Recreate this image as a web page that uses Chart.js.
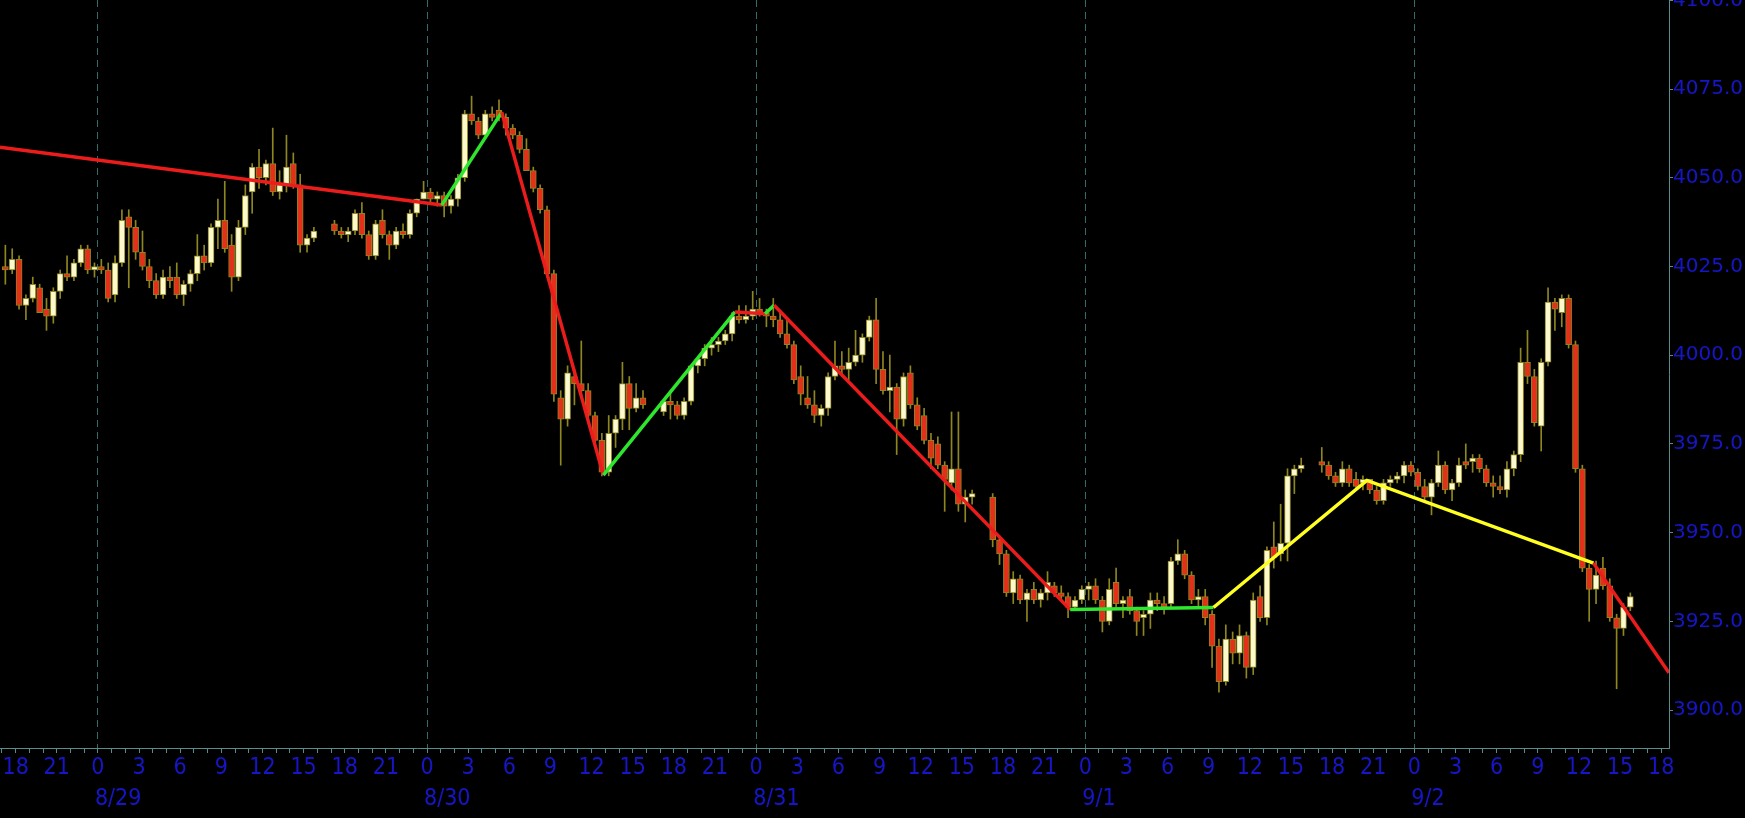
<!DOCTYPE html>
<html>
<head>
<meta charset="utf-8">
<script src="https://cdn.jsdelivr.net/npm/chart.js@4.4.0/dist/chart.umd.min.js"></script>
<style>
  html, body { margin: 0; padding: 0; background: #000; overflow: hidden; }
  #wrap { position: relative; width: 1745px; height: 818px; }
</style>
</head>
<body>
<div id="wrap"><canvas id="chart" width="1745" height="818"></canvas></div>
<script>
// ---------- Data (30-min bars, hours counted from 8/29 0:00) ----------
// first bar 8/28 17:00, last bar 9/2 15:30, daily break 16:00-17:00
const firstBar = -7;
const lastBar = 111.5;

const opens = [
  // 8/28 17:00 - 8/29 15:30
  4025,4024,4027,4014,4016,4019,4013,4011,4018,4023,4022,4026,4030,4024,
  4025,4024,4017,4026,4039,4036,4029,4025,4021,4017,4022,4022,4017,4020,4023,4028,4026,4036,
  4038,4031,4022,4036,4046,4053,4050,4054,4046,4048,4054,4048,4031,4033,
  // 8/29 17:00 - 8/30 15:30
  4037,4035,4034,4035,4040,4034,4028,4038,4034,4031,4035,4034,4040,4044,4046,4044,4045,4042,4044,4050,4068,4066,4062,4068,
  4069,4067,4064,4062,4058,4052,4047,4041,4023,3988,3982,3994,3992,3990,3983,3976,3967,3978,3982,3992,3985,3988,
  // 8/30 17:00 - 8/31 15:30
  3984,3987,3986,3983,3987,3997,3999,4002,4003,4004,4006,4011,4010,4011,4013,4012,4011,4010,4006,4003,3994,3988,3986,3983,
  3985,3994,3997,3996,3998,4000,4005,4010,3996,3990,3991,3982,3995,3986,3983,3976,3975,3969,3964,3968,3958,3960,
  // 8/31 17:00 - 9/1 15:30
  3960,3948,3944,3933,3937,3931,3934,3931,3933,3935,3933,3932,3929,3931,3934,3935,3931,3925,3936,3930,3932,3928,3926,3927,
  3931,3930,3930,3942,3944,3938,3931,3932,3927,3918,3908,3920,3916,3921,3912,3932,3926,3946,3944,3947,3966,3968,
  // 9/1 17:00 - 9/2 15:30
  3970,3969,3966,3964,3968,3965,3964,3965,3962,3959,3964,3965,3966,3969,3967,3963,3960,3964,3969,3962,3964,3970,3970,3971,
  3968,3964,3963,3962,3968,3972,3998,3994,3980,3998,4015,4012,4016,4003,3968,3940,3934,3940,3935,3926,3923,3929
];
const highs = [
  4031,4030,4028,4017,4022,4020,4016,4019,4024,4028,4027,4031,4031,4026,
  4027,4026,4028,4041,4041,4038,4035,4027,4023,4024,4025,4026,4021,4024,4034,4031,4037,4044,
  4049,4034,4038,4048,4054,4058,4055,4064,4052,4062,4057,4051,4034,4036,
  4038,4036,4036,4041,4043,4035,4038,4041,4035,4036,4037,4041,4044,4049,4047,4046,4046,4045,4051,4069,4073,4067,4069,4070,
  4072,4068,4065,4063,4061,4053,4048,4042,4024,3990,3997,3996,4004,3992,3984,3978,3983,3983,3998,3994,3992,3990,
  3987,3990,3987,3988,3997,3999,4003,4005,4005,4007,4012,4014,4014,4018,4016,4013,4016,4012,4010,4004,3997,3994,3990,3986,
  3995,4004,4001,4002,4007,4006,4011,4016,4001,4000,3992,3995,3997,3988,3985,3978,3977,3970,3984,3984,3962,3962,
  3961,3949,3945,3939,3938,3934,3936,3934,3939,3936,3935,3933,3932,3935,3936,3937,3932,3937,3940,3932,3934,3929,3928,3933,
  3933,3932,3943,3948,3945,3939,3934,3934,3928,3920,3924,3922,3924,3922,3933,3935,3946,3953,3958,3968,3969,3971,
  3974,3970,3967,3970,3969,3967,3966,3965,3963,3965,3966,3967,3970,3970,3968,3965,3965,3973,3970,3965,3971,3975,3972,3972,
  3969,3966,3966,3970,3973,4002,4007,3996,3999,4019,4016,4017,4017,4004,3969,3941,3942,3943,3937,3927,3930,3933
];
const lows = [
  4020,4023,4013,4010,4015,4012,4007,4009,4016,4021,4021,4025,4023,4022,
  4023,4015,4015,4025,4019,4027,4024,4019,4016,4016,4019,4016,4014,4018,4021,4024,4025,4030,
  4029,4018,4021,4034,4040,4047,4048,4045,4044,4046,4047,4029,4029,4032,
  4034,4033,4032,4034,4033,4027,4027,4033,4027,4030,4033,4033,4039,4044,4043,4042,4039,4040,4042,4049,4065,4061,4061,4066,
  4066,4062,4061,4057,4052,4046,4040,4022,3987,3969,3980,3986,3988,3982,3975,3966,3966,3974,3979,3979,3984,3985,
  3983,3982,3982,3982,3986,3995,3997,4000,4001,4003,4004,4009,4009,4010,4011,4008,4008,4005,4002,3992,3986,3985,3981,3980,
  3983,3993,3994,3993,3997,3998,4004,3992,3989,3984,3972,3980,3985,3979,3975,3968,3968,3956,3962,3956,3953,3958,
  3946,3941,3932,3930,3930,3925,3930,3929,3931,3932,3931,3926,3928,3930,3931,3930,3922,3924,3929,3926,3927,3921,3921,3923,
  3928,3927,3929,3941,3937,3930,3929,3924,3912,3905,3907,3913,3913,3909,3910,3925,3924,3940,3942,3942,3961,3967,
  3967,3965,3963,3963,3963,3962,3962,3961,3958,3958,3963,3964,3964,3966,3962,3959,3955,3963,3961,3959,3963,3968,3967,3967,
  3963,3960,3961,3960,3966,3970,3992,3980,3973,3997,4007,4008,4002,3967,3939,3925,3930,3934,3925,3906,3921,3928
];
const closes = [
  4024,4027,4014,4016,4020,4012,4011,4018,4023,4022,4026,4030,4024,4025,
  4024,4016,4026,4038,4036,4029,4025,4021,4017,4022,4021,4017,4020,4023,4028,4026,4036,4038,
  4030,4022,4036,4045,4053,4050,4054,4046,4048,4053,4048,4031,4033,4035,
  4035,4034,4035,4040,4034,4028,4037,4034,4031,4035,4034,4040,4044,4046,4044,4045,4042,4044,4050,4068,4066,4062,4068,4067,
  4067,4064,4062,4058,4052,4047,4041,4023,3989,3982,3995,3992,3990,3983,3976,3967,3978,3982,3992,3985,3988,3986,
  3987,3986,3983,3987,3997,3999,4002,4003,4004,4006,4011,4010,4011,4013,4012,4011,4010,4006,4003,3993,3989,3986,3983,3985,
  3994,3997,3996,3998,4000,4005,4010,3996,3990,3991,3982,3994,3986,3980,3976,3971,3969,3965,3968,3958,3960,3961,
  3948,3944,3933,3937,3931,3933,3931,3933,3936,3933,3932,3929,3931,3934,3935,3931,3925,3934,3930,3931,3928,3925,3927,3931,
  3930,3929,3942,3944,3938,3931,3932,3926,3918,3908,3920,3916,3921,3912,3931,3926,3945,3943,3947,3966,3968,3969,
  3969,3966,3964,3968,3964,3963,3965,3962,3959,3964,3965,3966,3969,3967,3963,3960,3964,3969,3962,3964,3969,3969,3971,3968,
  3964,3963,3962,3968,3972,3998,3994,3981,3998,4015,4013,4016,4003,3968,3940,3934,3938,3935,3926,3923,3929,3932
];

// zigzag trend line pivots
const pivotHours  = [-7.14, 25.07, 29.45, 36.86, 46.46, 48.65, 49.31, 70.9, 81.35, 92.54, 109.06, 114.57];
const pivotPrices = [4058.6, 4042.3, 4068.5, 3966.2, 4012.2, 4011.7, 4014.1, 3928.3, 3928.9, 3964.7, 3941.4, 3910.5];
const segColors   = ['#ec1c1c','#2ee62e','#ec1c1c','#2ee62e','#ec1c1c','#2ee62e','#ec1c1c','#2ee62e','#ffff22','#ffff22','#ec1c1c'];

// axes
const yTicks = [3900, 3925, 3950, 3975, 4000, 4025, 4050, 4075, 4100];
const dateLabels = ['8/29', '8/30', '8/31', '9/1', '9/2'];
const dateHours = [0, 24, 48, 72, 96];
const xMin = -7.14, xMax = 114.57;
const yMin = 3889.3, yMax = 4100.1;

// ---------- Build ----------
const barTimes = [];
for (let t = firstBar; t <= lastBar; t += 0.5) {
  const hod = ((t % 24) + 24) % 24;
  if (hod >= 16 && hod < 17) continue; // maintenance break
  barTimes.push(t);
}

const BLUE = '#1616c8';
const AXIS = '#5a8c8c';
const GRID = '#346a6a';
const OLIVE = '#8e8620';
const BULL = '#fdf9cf';
const BEAR = '#e4301a';

const wickData = barTimes.map((t, i) => ({x: t + 0.25, y: [lows[i], highs[i]]}));
const bodyData = barTimes.map((t, i) => ({x: t + 0.25, y: [opens[i], closes[i]]}));
const bodyColors = barTimes.map((t, i) => closes[i] >= opens[i] ? BULL : BEAR);
const zigzag = pivotHours.map((h, i) => ({x: h, y: pivotPrices[i]}));

const hourTicks = [];
for (let h = -7; h <= 114; h++) hourTicks.push(h);

const xFont = {family: "'Liberation Sans Narrow', 'DejaVu Sans Condensed', 'Arial Narrow', sans-serif", size: 23};

const dateLabelPlugin = {
  id: 'dateLabels',
  afterDraw(chart) {
    const ctx = chart.ctx;
    const xs = chart.scales.x;
    ctx.save();
    ctx.fillStyle = BLUE;
    ctx.font = `${xFont.size}px ${xFont.family}`;
    ctx.textAlign = 'left';
    ctx.textBaseline = 'middle';
    dateLabels.forEach((lab, i) => {
      ctx.fillText(lab, xs.getPixelForValue(dateHours[i]) - 3, 799);
    });
    ctx.restore();
  }
};

new Chart(document.getElementById('chart'), {
  type: 'bar',
  data: {
    datasets: [
      {
        type: 'line',
        data: zigzag,
        borderWidth: 3.5,
        pointRadius: 0,
        tension: 0,
        borderColor: '#ec1c1c',
        segment: { borderColor: c => segColors[c.p0DataIndex] },
        order: 0
      },
      {
        data: bodyData,
        backgroundColor: bodyColors,
        borderColor: OLIVE,
        borderWidth: 1,
        borderSkipped: false,
        barThickness: 6,
        grouped: false,
        order: 1
      },
      {
        data: wickData,
        backgroundColor: OLIVE,
        borderWidth: 0,
        barThickness: 1,
        grouped: false,
        order: 2
      }
    ]
  },
  options: {
    responsive: false,
    animation: false,
    devicePixelRatio: 1,
    events: [],
    layout: { padding: 0 },
    plugins: { legend: {display: false}, tooltip: {enabled: false} },
    scales: {
      x: {
        type: 'linear',
        min: xMin, max: xMax,
        offset: false,
        afterBuildTicks: s => { s.ticks = hourTicks.map(v => ({value: v})); },
        afterFit: s => { s.height = 70; s.paddingLeft = 0; s.paddingRight = 0; },
        grid: {
          offset: false,
          drawTicks: true,
          tickLength: 5,
          tickColor: AXIS,
          color: c => (c.tick && c.tick.value % 24 === 0) ? GRID : 'rgba(0,0,0,0)',
          lineWidth: 1
        },
        border: { display: true, color: AXIS, width: 1, dash: [7, 5] },
        ticks: {
          autoSkip: false,
          maxRotation: 0,
          padding: 1,
          color: BLUE,
          font: xFont,
          callback: v => (v % 3 === 0) ? String(((v % 24) + 24) % 24) : ''
        }
      },
      y: {
        type: 'linear',
        position: 'right',
        min: yMin, max: yMax,
        afterBuildTicks: s => { s.ticks = yTicks.map(v => ({value: v})); },
        afterFit: s => { s.width = 76; s.paddingTop = 0; s.paddingBottom = 0; },
        grid: { drawOnChartArea: false, drawTicks: true, tickLength: 4, tickColor: AXIS },
        border: { display: true, color: AXIS, width: 1 },
        ticks: {
          padding: 0,
          color: BLUE,
          font: {family: "'DejaVu Sans', Verdana, sans-serif", size: 20},
          callback: v => Number(v).toFixed(1)
        }
      }
    }
  },
  plugins: [dateLabelPlugin]
});
</script>
</body>
</html>
